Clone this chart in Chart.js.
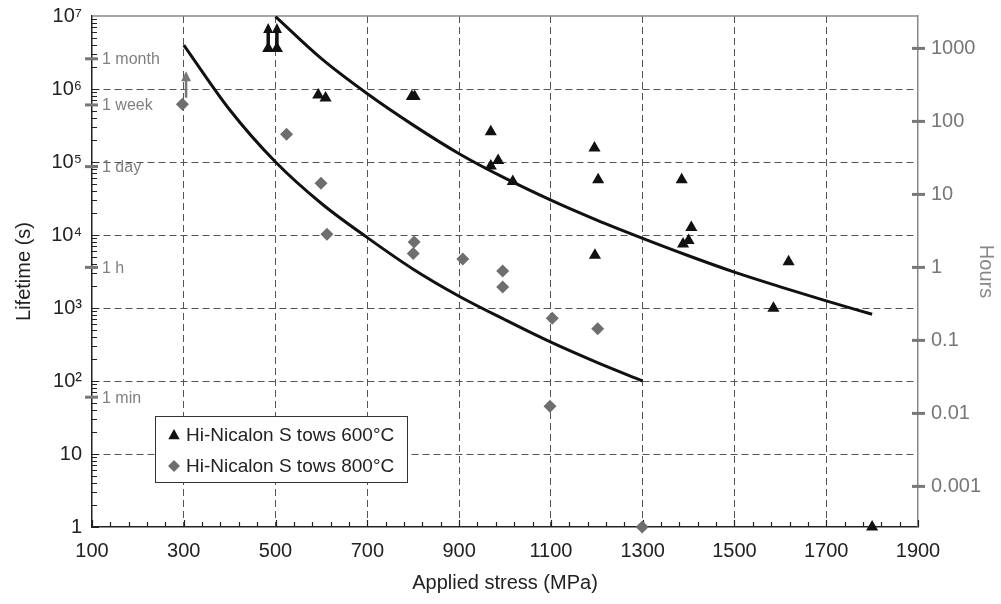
<!DOCTYPE html>
<html>
<head>
<meta charset="utf-8">
<script src="https://cdn.jsdelivr.net/npm/chart.js@4.4.1/dist/chart.umd.min.js"></script>
<style>
  html, body { margin: 0; padding: 0; background: #fff; }
  #wrap { width: 1001px; height: 604px; position: relative; }
</style>
</head>
<body>
<div id="wrap"><canvas id="c"></canvas></div>
<script>
// tows at 600°C (triangles)
const stress600 = [484, 503, 593, 609, 797, 803, 969, 985, 969, 1017, 1195, 1203, 1196, 1385, 1388, 1400, 1406, 1585, 1618, 1800];
const life600 = [3.6e6, 3.6e6, 8.3e5, 7.5e5, 7.9e5, 7.9e5, 2.6e5, 1.05e5, 8.8e4, 5.4e4, 1.55e5, 5.7e4, 5.3e3, 5.7e4, 7.5e3, 8.4e3, 1.27e4, 990, 4.3e3, 1];
// tows at 800°C (diamonds)
const stress800 = [297, 524, 599, 612, 802, 800, 908, 995, 995, 1103, 1202, 1098, 1299];
const life800 = [6.2e5, 2.4e5, 5.1e4, 1.02e4, 8.0e3, 5.6e3, 4.7e3, 3.2e3, 1.94e3, 723, 520, 45, 1];
// fitted curves
const upperStress = [500, 600, 700, 800, 900, 1000, 1100, 1200, 1300, 1400, 1500, 1600, 1700, 1800];
const upperLife = [9.8e6, 2.6e6, 8.6e5, 3.2e5, 1.3e5, 6.0e4, 3.0e4, 1.6e4, 9.0e3, 5.2e3, 3.1e3, 1.95e3, 1.25e3, 820];
const lowerStress = [300, 400, 500, 600, 700, 800, 900, 1000, 1100, 1200, 1300];
const lowerLife = [4.0e6, 5.2e5, 1.0e5, 2.7e4, 9.2e3, 3.4e3, 1.45e3, 690, 340, 180, 100];
// run-out arrows
const arrowStress = [484, 503, 305];
const arrowFrom = [3.4e6, 3.4e6, 7.6e5];
const arrowTo = [8.0e6, 8.0e6, 1.75e6];
const arrowColor = ['#111', '#111', '#777'];
// axes
const xTicks = [100, 300, 500, 700, 900, 1100, 1300, 1500, 1700, 1900];
const yTicks = [1, 10, 100, 1e3, 1e4, 1e5, 1e6, 1e7];
const yTickLabels = ['1', '10', '10²', '10³', '10⁴', '10⁵', '10⁶', '10⁷'];
const hourTicks = [0.001, 0.01, 0.1, 1, 10, 100, 1000];
const hourTickLabels = ['0.001', '0.01', '0.1', '1', '10', '100', '1000'];
const markLabels = ['1 month', '1 week', '1 day', '1 h', '1 min'];
const markSeconds = [2592000, 604800, 86400, 3600, 60];
const legendLabels = ['Hi-Nicalon S tows 600°C', 'Hi-Nicalon S tows 800°C'];

const FONT = '"Liberation Sans", Arial, Helvetica, sans-serif';
const BLACK = '#111';
const GREY = '#6e6e6e';

function pts(xs, ys) { return xs.map((x, i) => ({ x: x, y: ys[i] })); }

function marker(ctx, style, x, y, r, color) {
  ctx.save();
  ctx.fillStyle = color;
  ctx.beginPath();
  if (style === 'triangle') {
    ctx.moveTo(x, y - r);
    ctx.lineTo(x + r * 0.95, y + r * 0.7);
    ctx.lineTo(x - r * 0.95, y + r * 0.7);
  } else {
    ctx.moveTo(x, y - r);
    ctx.lineTo(x + r, y);
    ctx.lineTo(x, y + r);
    ctx.lineTo(x - r, y);
  }
  ctx.closePath();
  ctx.fill();
  ctx.restore();
}

// pin the plot box so it does not grow room for half tick labels
function fixV(w) {
  return s => { s.width = w; s.paddingTop = 0; s.paddingBottom = 0; };
}

const extras = {
  id: 'extras',
  beforeDatasetsDraw(chart) {
    const ctx = chart.ctx;
    const a = chart.chartArea;
    const xs = chart.scales.x, ys = chart.scales.y, hs = chart.scales.y2;
    ctx.save();
    // top border
    ctx.strokeStyle = '#888';
    ctx.lineWidth = 1.5;
    ctx.beginPath();
    ctx.moveTo(a.left, a.top);
    ctx.lineTo(a.right, a.top);
    ctx.stroke();
    // x ticks pointing inward
    ctx.strokeStyle = '#222';
    ctx.lineWidth = 1.2;
    for (let v = 100; v <= 1900; v += 40) {
      const px = Math.round(xs.getPixelForValue(v)) + 0.5;
      const len = xTicks.includes(v) ? 7 : 5;
      ctx.beginPath();
      ctx.moveTo(px, a.bottom);
      ctx.lineTo(px, a.bottom - len);
      ctx.stroke();
    }
    // y minor ticks
    ctx.lineWidth = 1;
    for (let d = 1; d < 1e7; d *= 10) {
      for (let k = 1; k < 10; k++) {
        const py = Math.round(ys.getPixelForValue(k * d)) + 0.5;
        ctx.beginPath();
        ctx.moveTo(a.left, py);
        ctx.lineTo(a.left + (k === 1 ? 7 : 5), py);
        ctx.stroke();
      }
    }
    // hours ticks
    ctx.strokeStyle = '#777';
    ctx.lineWidth = 3;
    hourTicks.forEach(h => {
      const py = hs.getPixelForValue(h);
      ctx.beginPath();
      ctx.moveTo(a.right - 6, py);
      ctx.lineTo(a.right + 7, py);
      ctx.stroke();
    });
    // time marks on left axis
    ctx.font = '16px ' + FONT;
    ctx.textBaseline = 'middle';
    ctx.textAlign = 'left';
    markSeconds.forEach((s, i) => {
      const py = ys.getPixelForValue(s);
      ctx.strokeStyle = '#777';
      ctx.beginPath();
      ctx.moveTo(a.left - 7, py);
      ctx.lineTo(a.left + 6, py);
      ctx.stroke();
      ctx.fillStyle = '#808080';
      ctx.fillText(markLabels[i], a.left + 10, py + 1);
    });
    ctx.restore();
  },
  afterDraw(chart) {
    const ctx = chart.ctx;
    const xs = chart.scales.x, ys = chart.scales.y;
    ctx.save();
    // arrows
    arrowStress.forEach((s, i) => {
      const px = xs.getPixelForValue(s);
      const y0 = ys.getPixelForValue(arrowFrom[i]);
      const y1 = ys.getPixelForValue(arrowTo[i]);
      const w = i < 2 ? 3.5 : 2.5;
      ctx.strokeStyle = arrowColor[i];
      ctx.fillStyle = arrowColor[i];
      ctx.lineWidth = w;
      ctx.beginPath();
      ctx.moveTo(px, y0);
      ctx.lineTo(px, y1 + 6);
      ctx.stroke();
      ctx.beginPath();
      ctx.moveTo(px, y1);
      ctx.lineTo(px + 5, y1 + 10);
      ctx.lineTo(px - 5, y1 + 10);
      ctx.closePath();
      ctx.fill();
    });
    // legend box
    const bx = 155, by = 416, bw = 252, bh = 66;
    ctx.fillStyle = '#fff';
    ctx.fillRect(bx, by, bw, bh);
    ctx.strokeStyle = '#333';
    ctx.lineWidth = 1;
    ctx.strokeRect(bx + 0.5, by + 0.5, bw, bh);
    ctx.font = '19px ' + FONT;
    ctx.textBaseline = 'middle';
    ctx.textAlign = 'left';
    const styles = ['triangle', 'diamond'];
    const cols = [BLACK, GREY];
    legendLabels.forEach((t, i) => {
      const cy = by + 19 + i * 31;
      marker(ctx, styles[i], bx + 19, cy, 6, cols[i]);
      ctx.fillStyle = '#222';
      ctx.fillText(t, bx + 31, cy + 1);
    });
    ctx.restore();
  }
};

const gridColor = edgeValues => c => (c.tick && edgeValues.includes(c.tick.value)) ? 'rgba(0,0,0,0)' : '#555';

new Chart(document.getElementById('c'), {
  type: 'scatter',
  data: {
    datasets: [
      {
        label: legendLabels[0],
        data: pts(stress600, life600),
        pointStyle: 'triangle',
        pointRadius: 7,
        backgroundColor: BLACK,
        borderColor: BLACK,
        borderWidth: 0,
        clip: false,
        order: 0
      },
      {
        label: legendLabels[1],
        data: pts(stress800, life800),
        pointStyle: 'rectRot',
        pointRadius: 6.5,
        backgroundColor: GREY,
        borderColor: GREY,
        borderWidth: 0,
        clip: false,
        order: 0
      },
      {
        label: 'fit 600',
        data: pts(upperStress, upperLife),
        showLine: true,
        pointRadius: 0,
        borderColor: BLACK,
        borderWidth: 3,
        cubicInterpolationMode: 'monotone',
        order: 1
      },
      {
        label: 'fit 800',
        data: pts(lowerStress, lowerLife),
        showLine: true,
        pointRadius: 0,
        borderColor: BLACK,
        borderWidth: 3,
        cubicInterpolationMode: 'monotone',
        order: 1
      }
    ]
  },
  options: {
    responsive: true,
    maintainAspectRatio: false,
    animation: false,
    devicePixelRatio: 1,
    layout: { padding: { top: 16, left: 0, right: 0, bottom: 0 } },
    plugins: { legend: { display: false }, tooltip: { enabled: false } },
    scales: {
      x: {
        type: 'linear',
        min: 100,
        max: 1900,
        afterBuildTicks: s => { s.ticks = xTicks.map(v => ({ value: v })); },
        afterFit: s => { s.height = 77; s.paddingLeft = 0; s.paddingRight = 0; },
        grid: { color: gridColor([100, 1900]), drawTicks: false, lineWidth: 1 },
        border: { display: true, color: '#222', width: 1.5, dash: [7, 4] },
        ticks: { color: '#222', font: { family: FONT, size: 20 }, padding: 12, maxRotation: 0, callback: (v, i) => String(xTicks[i]) },
        title: { display: true, text: 'Applied stress (MPa)', color: '#222', font: { family: FONT, size: 20 }, padding: { bottom: 9 } }
      },
      y: {
        type: 'logarithmic',
        position: 'left',
        min: 1,
        max: 1e7,
        afterBuildTicks: s => { s.ticks = yTicks.map(v => ({ value: v })); },
        afterFit: fixV(92),
        grid: { color: gridColor([1, 1e7]), drawTicks: false, lineWidth: 1 },
        border: { display: true, color: '#222', width: 1.5, dash: [7, 4] },
        ticks: { color: '#222', font: { family: FONT, size: 20 }, padding: 10, callback: (v, i) => yTickLabels[i] },
        title: { display: true, text: 'Lifetime (s)', color: '#222', font: { family: FONT, size: 20 }, padding: { top: 12 } }
      },
      y2: {
        type: 'logarithmic',
        position: 'right',
        min: 1 / 3600,
        max: 1e7 / 3600,
        afterBuildTicks: s => { s.ticks = hourTicks.map(v => ({ value: v })); },
        afterFit: fixV(83),
        grid: { drawOnChartArea: false, drawTicks: false },
        border: { display: true, color: '#888', width: 1.5 },
        ticks: { color: '#777', font: { family: FONT, size: 20 }, padding: 13, callback: (v, i) => hourTickLabels[i] },
        title: { display: true, text: 'Hours', color: '#888', font: { family: FONT, size: 20 }, padding: { top: 3 } }
      }
    }
  },
  plugins: [extras]
});
</script>
</body>
</html>
